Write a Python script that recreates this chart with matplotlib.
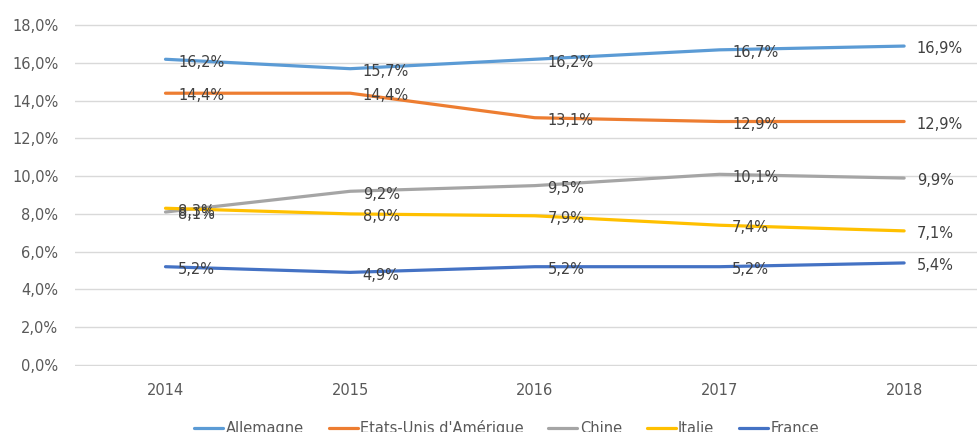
import matplotlib
matplotlib.use("Agg")
import matplotlib.pyplot as plt
from matplotlib.ticker import FuncFormatter

years = ["2014", "2015", "2016", "2017", "2018"]
allemagne = [16.2, 15.7, 16.2, 16.7, 16.9]
etats_unis = [14.4, 14.4, 13.1, 12.9, 12.9]
chine = [8.1, 9.2, 9.5, 10.1, 9.9]
italie = [8.3, 8.0, 7.9, 7.4, 7.1]
france = [5.2, 4.9, 5.2, 5.2, 5.4]

series = [
    ("Allemagne", allemagne, "#5B9BD5"),
    ("Etats-Unis d'Amérique", etats_unis, "#ED7D31"),
    ("Chine", chine, "#A5A5A5"),
    ("Italie", italie, "#FFC000"),
    ("France", france, "#4472C4"),
]

text_color = "#595959"
label_color = "#404040"
plt.rcParams["font.family"] = ["DejaVu Sans"]


def pct(v, pos=None):
    return f"{v:.1f}%".replace(".", ",")


fig = plt.figure(figsize=(9.78, 4.32), dpi=100)
ax = fig.add_axes([0.0767, 0.153, 0.9233, 0.791])

x = list(range(len(years)))
for name, vals, color in series:
    ax.plot(x, vals, color=color, lw=2.3, label=name, solid_capstyle="round")
    for xi, v in zip(x, vals):
        ax.annotate(pct(v), (xi, v), xytext=(9, -2), textcoords="offset points",
                    ha="left", va="center", fontsize=10.5, color=label_color)

ax.set_xlim(-0.49, 4.4)
ax.set_ylim(-0.06, 18.06)
ax.set_yticks([0, 2, 4, 6, 8, 10, 12, 14, 16, 18])
ax.yaxis.set_major_formatter(FuncFormatter(pct))
ax.set_xticks(x)
ax.set_xticklabels(years)
ax.grid(axis="y", color="#D9D9D9", lw=1)
ax.set_axisbelow(True)
for s in ax.spines.values():
    s.set_visible(False)
ax.tick_params(length=0, colors=text_color, labelsize=10.5)
ax.tick_params(axis="y", pad=12)
ax.tick_params(axis="x", pad=12)

fig.legend(loc="center", bbox_to_anchor=(0.518, 0.010), ncol=5, frameon=False,
           fontsize=10.5, labelcolor=text_color, handlelength=2.0,
           handletextpad=0.15, columnspacing=1.7)

fig.savefig("out.png", dpi=100)
